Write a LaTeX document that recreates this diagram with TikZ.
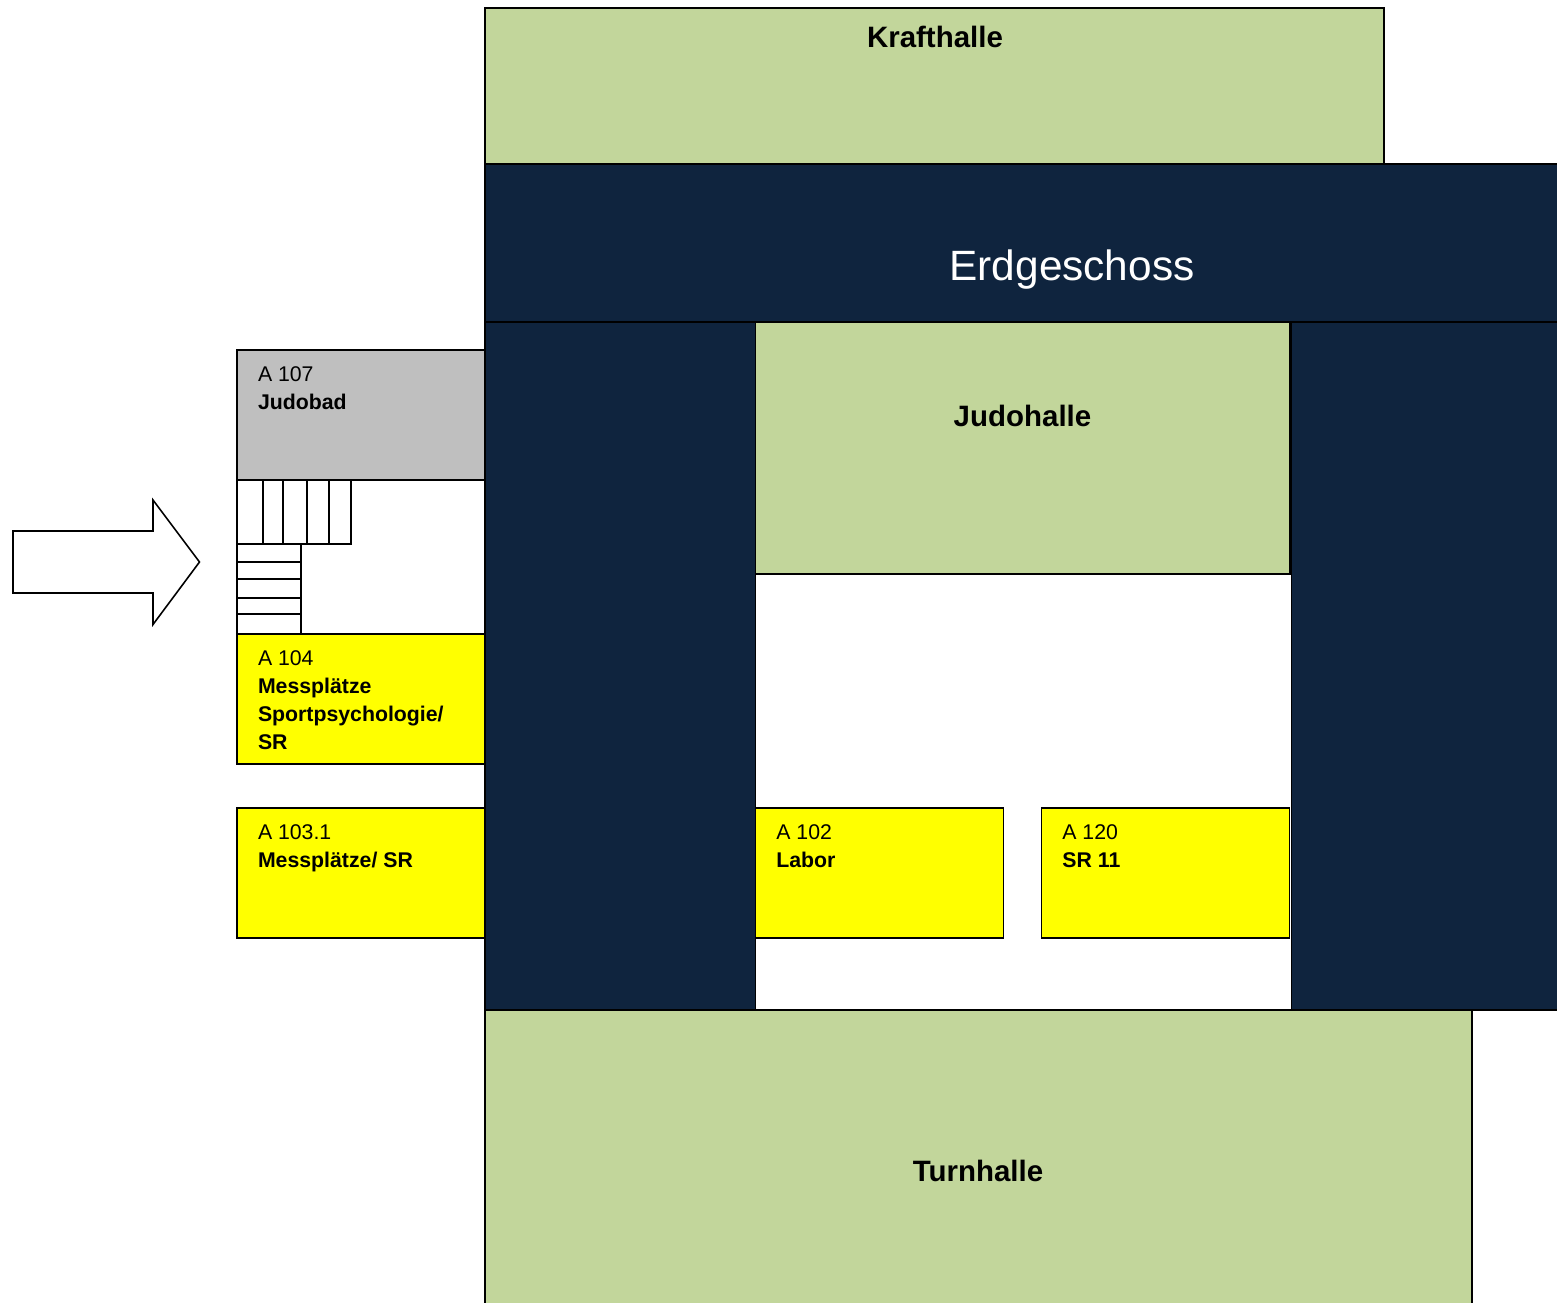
\documentclass[tikz,border=0pt]{standalone}
\usepackage{fontspec}
\setmainfont{Liberation Sans}
\definecolor{halle}{HTML}{C2D69B}
\definecolor{flur}{HTML}{0F243E}
\definecolor{bad}{RGB}{191,191,191}
\definecolor{gelb}{RGB}{255,255,0}
\tikzset{
	raum/.style={draw,line width=0.45pt},
	hallname/.style={font=\fontsize{8.38}{10}\selectfont\bfseries},
	raumname/.style={anchor=north west,inner sep=0pt,align=left,font=\fontsize{6.05}{8}\selectfont},
}
\begin{document}
\begin{tikzpicture}[x=0.01cm,y=-0.01cm]
	\useasboundingbox (0,0) rectangle (1557,1302);
	% halls
	\draw[raum,fill=halle](485,8) rectangle (1384,164);
	\draw[raum,fill=halle](485,1010) rectangle (1472,1320);
	\draw[raum,fill=halle](755.5,322) rectangle (1290,574);
	% corridors
	\draw[raum,fill=flur](485,164) rectangle (1570,322);
	\draw[raum,fill=flur](485,322) rectangle (755.5,1010);
	\draw[raum,fill=flur](1291.5,322) rectangle (1570,1010);
	\draw[raum](755.5,1010)--(1291.5,1010);
	% rooms
	\draw[raum,fill=bad](237,350) rectangle (485,480);
	\draw[raum,fill=gelb](237,634) rectangle (485,764);
	\draw[raum,fill=gelb](237,808) rectangle (485,938);
	\draw[raum,fill=gelb](755.5,808) rectangle (1003.5,938);
	\draw[raum,fill=gelb](1041.5,808) rectangle (1289.5,938);
	% stairs
	\draw[raum](237,480) rectangle (351,544);
	\foreach \x in {263,283,307,329}
		\draw[raum](\x,480)--(\x,544);
	\draw[raum](237,544) rectangle (301,634);
	\foreach \y in {562,579,598,614}
		\draw[raum](237,\y)--(301,\y);
	% entrance arrow
	\draw[raum,fill=white](13,531)--(153,531)--(153,500)--(199.5,562)--(153,624.5)--(153,593)--(13,593)--cycle;
	% labels
	\node[hallname] (kraft) at(935,37){Krafthalle};
	\node[hallname] (judo) at(1022.5,416){Judohalle};
	\node[hallname] (turn) at(978,1171){Turnhalle};
	\node[text=white,font=\fontsize{12.05}{15}\selectfont] (eg) at(1072,270){Erdgeschoss};
	\node[raumname] (a107) at(257.3,366){A 107\\\textbf{Judobad}};
	\node[raumname] (a104) at(257.3,650){A 104\\\textbf{Messplätze}\\\textbf{Sportpsychologie/}\\\textbf{SR}};
	\node[raumname] (a103) at(257.3,824){A 103.1\\\textbf{Messplätze/ SR}};
	\node[raumname] (a102) at(775.7,824){A 102\\\textbf{Labor}};
	\node[raumname] (a120) at(1061.7,824){A 120\\\textbf{SR 11}};
\end{tikzpicture}
\end{document}
